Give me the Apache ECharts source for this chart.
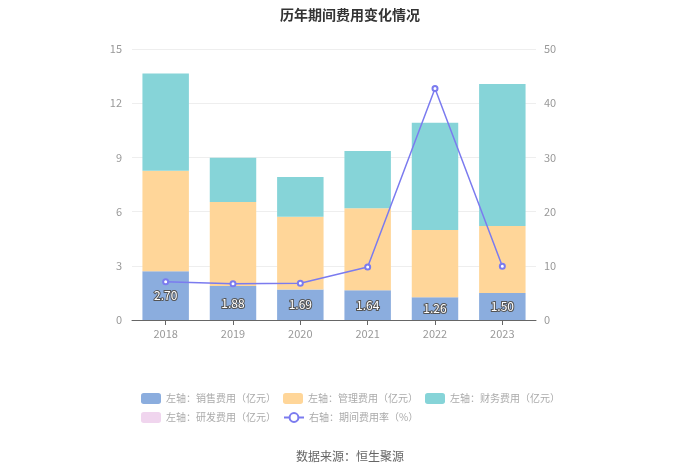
<!DOCTYPE html>
<html><head><meta charset="utf-8">
<script src="https://cdn.jsdelivr.net/npm/echarts@6/dist/echarts.min.js"></script>
<style>html,body{margin:0;padding:0;background:#fff}#c{width:700px;height:474px}</style>
</head><body><div id="c"></div>
<script>
var categories = ['2018','2019','2020','2021','2022','2023'];
var salesExp = [2.70, 1.88, 1.69, 1.64, 1.26, 1.50];
var mgmtExp = [5.56, 4.65, 4.03, 4.54, 3.72, 3.70];
var finExp = [5.39, 2.45, 2.19, 3.17, 5.94, 7.86];
var rdExp = [null, null, null, null, null, null];
var expRate = [7.07, 6.70, 6.77, 9.78, 42.7, 9.90];
var leftTicks = {min: 0, max: 15, interval: 3};
var rightTicks = {min: 0, max: 50, interval: 10};

var chart = echarts.init(document.getElementById('c'));
var font = 'Microsoft YaHei, "Noto Sans CJK SC", sans-serif';
var legendCommon = {
  padding: 0, itemWidth: 20, itemHeight: 11, itemGap: 7,
  textStyle: {color: '#aaa', fontSize: 10, fontFamily: font}
};
chart.setOption({
  backgroundColor: '#fff',
  textStyle: {fontFamily: font},
  title: {text: '历年期间费用变化情况', left: 'center', top: 3,
    textStyle: {fontSize: 14, fontWeight: 'bold', color: '#333', fontFamily: font}},
  grid: {left: 132, right: 164, top: 49, bottom: 154},
  legend: [
    Object.assign({left: 141, top: 393, data: ['左轴：销售费用（亿元）', '左轴：管理费用（亿元）', '左轴：财务费用（亿元）']}, legendCommon),
    Object.assign({left: 141, top: 412, data: ['左轴：研发费用（亿元）', '右轴：期间费用率（%）']}, legendCommon)
  ],
  graphic: [{type: 'text', left: 'center', top: 450,
    style: {text: '数据来源：恒生聚源', fill: '#666', fontSize: 12, fontFamily: font}}],
  xAxis: {type: 'category', data: categories,
    axisLine: {lineStyle: {color: '#666'}}, axisTick: {show: true, alignWithLabel: true, lineStyle: {color: '#666'}},
    axisLabel: {color: '#999', fontSize: 11, margin: 8}},
  yAxis: [
    {type: 'value', min: leftTicks.min, max: leftTicks.max, interval: leftTicks.interval,
      axisLine: {show: false}, axisTick: {show: false},
      axisLabel: {color: '#999', fontSize: 11, margin: 10},
      splitLine: {lineStyle: {color: '#eee'}}},
    {type: 'value', min: rightTicks.min, max: rightTicks.max, interval: rightTicks.interval,
      axisLine: {show: false}, axisTick: {show: false},
      axisLabel: {color: '#999', fontSize: 11, margin: 8},
      splitLine: {show: false}}
  ],
  series: [
    {name: '左轴：销售费用（亿元）', type: 'bar', stack: 'a', data: salesExp, barWidth: '69%',
      itemStyle: {color: '#8badde'},
      label: {show: true, position: 'inside', formatter: function(p){return p.value.toFixed(2);},
        color: '#fff', fontSize: 12, textBorderColor: '#555', textBorderWidth: 2}},
    {name: '左轴：管理费用（亿元）', type: 'bar', stack: 'a', data: mgmtExp, itemStyle: {color: '#ffd699'}},
    {name: '左轴：财务费用（亿元）', type: 'bar', stack: 'a', data: finExp, itemStyle: {color: '#86d4d8'}},
    {name: '左轴：研发费用（亿元）', type: 'bar', stack: 'a', data: rdExp, itemStyle: {color: '#f0d5ee'}},
    {name: '右轴：期间费用率（%）', type: 'line', yAxisIndex: 1, data: expRate,
      symbol: 'emptyCircle', symbolSize: 5, z: 5,
      lineStyle: {color: '#7b7bef', width: 1.5}, itemStyle: {color: '#7b7bef'}}
  ]
});
</script></body></html>
